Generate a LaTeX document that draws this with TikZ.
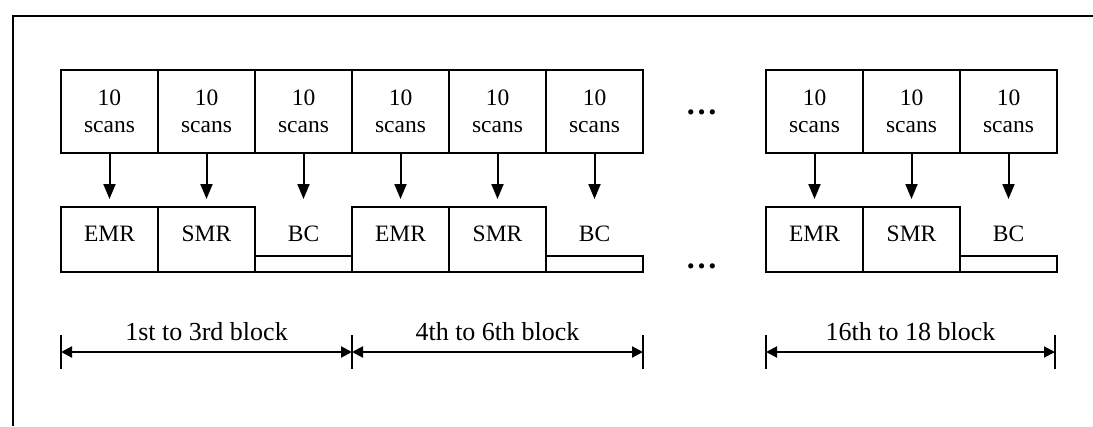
\documentclass[tikz,border=0pt]{standalone}
\usepackage{fontspec}
\setmainfont{Liberation Serif}
\usetikzlibrary{arrows.meta,calc}

\begin{document}
\begin{tikzpicture}[x=1pt,y=-1pt,
  line width=2pt,
  font=\fontsize{23.5}{27}\selectfont,
  scanbox/.style={draw, rectangle, minimum width=97pt, minimum height=83pt,
                  inner sep=0pt, align=center},
  ratebox/.style={draw, rectangle, minimum width=97pt, minimum height=65pt,
                  inner sep=0pt, text depth=12pt},
  bclabel/.style={rectangle, minimum width=97pt, minimum height=65pt,
                  inner sep=0pt, text depth=12pt},
  bcbar/.style={draw, rectangle, minimum width=97pt, minimum height=16pt, inner sep=0pt},
  feed/.style={-{Triangle[length=15pt,width=12pt]}, shorten >=7pt},
  span/.style={{Triangle[length=11pt,width=11pt]}-{Triangle[length=11pt,width=11pt]}},
  dots/.style={inner sep=0pt, font=\fontsize{32}{34}\selectfont\bfseries},
  spanlabel/.style={above=7pt, font=\fontsize{26}{28}\selectfont},
]
\useasboundingbox (0,0) rectangle (1093,426);

% open frame
\draw (13,426) -- (13,15.5) -- (1093,15.5);

% scan groups
\foreach \i/\x in {1/109.5,2/206.5,3/303.5,4/400.5,5/497.5,6/594.5,7/814.5,8/911.5,9/1008.5}
  \node[scanbox] (s\i) at (\x,111.5) {10\\scans};

% measurement slots
\node[ratebox] (e1) at (109.5,239.5) {EMR};
\node[ratebox] (m1) at (206.5,239.5) {SMR};
\node[bclabel] (b1) at (303.5,239.5) {BC};
\node[bcbar] (bb1) at (303.5,264) {};
\node[ratebox] (e2) at (400.5,239.5) {EMR};
\node[ratebox] (m2) at (497.5,239.5) {SMR};
\node[bclabel] (b2) at (594.5,239.5) {BC};
\node[bcbar] (bb2) at (594.5,264) {};
\node[ratebox] (e3) at (814.5,239.5) {EMR};
\node[ratebox] (m3) at (911.5,239.5) {SMR};
\node[bclabel] (b3) at (1008.5,239.5) {BC};
\node[bcbar] (bb3) at (1008.5,264) {};

% scans feeding each slot
\draw[feed] (s1.south) -- (e1.north);
\draw[feed] (s2.south) -- (m1.north);
\draw[feed] (s3.south) -- (b1.north);
\draw[feed] (s4.south) -- (e2.north);
\draw[feed] (s5.south) -- (m2.north);
\draw[feed] (s6.south) -- (b2.north);
\draw[feed] (s7.south) -- (e3.north);
\draw[feed] (s8.south) -- (m3.north);
\draw[feed] (s9.south) -- (b3.north);

% omitted blocks
\node[dots, anchor=base] (dtop) at (701.5,114) {…};
\node[dots, anchor=base] (dbot) at (701.5,268) {…};

% block spans
\coordinate (d0) at (61,352);
\coordinate (d1) at (352,352);
\coordinate (d2) at (643,352);
\coordinate (d3) at (766,352);
\coordinate (d4) at (1055,352);
\foreach \c in {d0,d1,d2,d3,d4}
  \draw ($(\c)+(0,-17)$) -- ($(\c)+(0,17)$);
\draw[span] (d0) -- node[spanlabel] (l1) {1st to 3rd block} (d1);
\draw[span] (d1) -- node[spanlabel] (l2) {4th to 6th block} (d2);
\draw[span] (d3) -- node[spanlabel] (l3) {16th to 18 block} (d4);
\end{tikzpicture}
\end{document}
